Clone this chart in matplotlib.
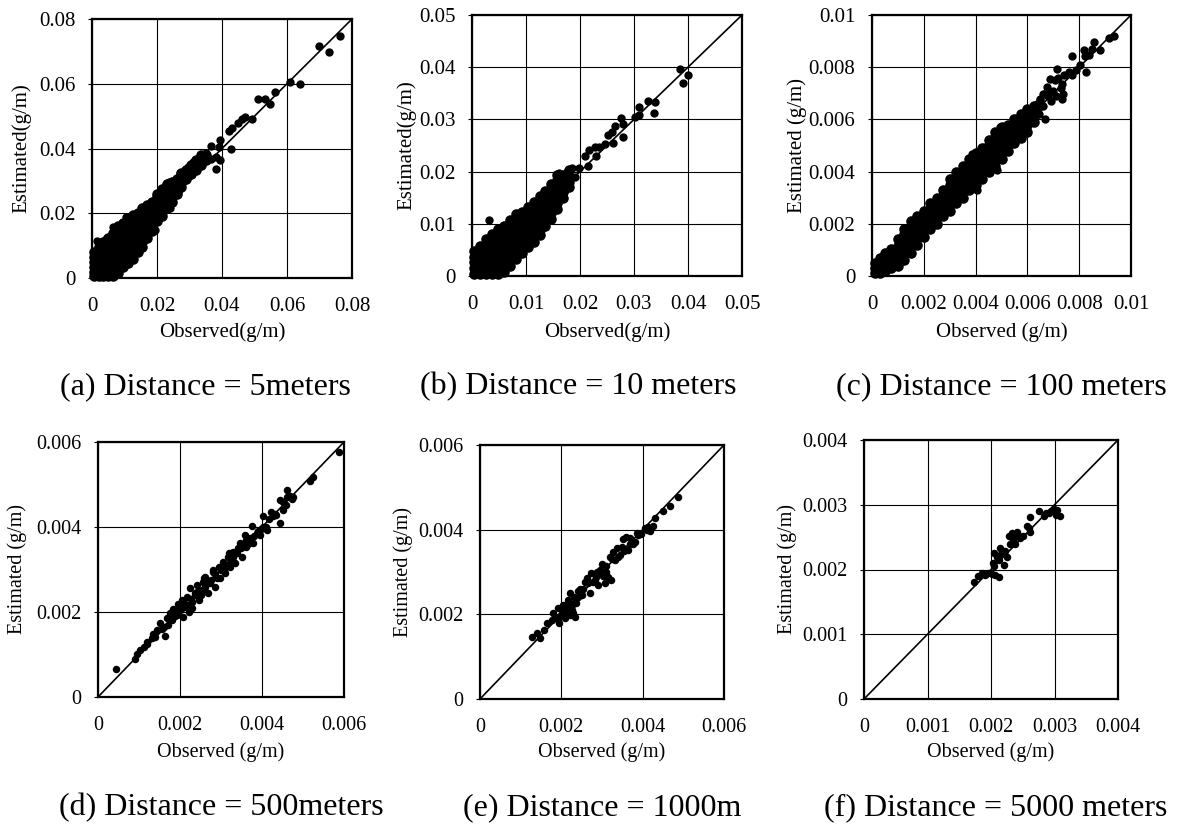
import matplotlib
matplotlib.use("Agg")
import matplotlib.pyplot as plt

plt.rcParams['font.family'] = ['Liberation Serif', 'DejaVu Serif']

# ---------------- data ----------------
# (a) 5 m : dense core as columns (observed -> list of estimated) + sparse points
a_core_x = [0.0005, 0.002, 0.0035, 0.005, 0.0065, 0.008, 0.0095, 0.011, 0.0125, 0.014,
            0.0155, 0.017, 0.0185, 0.02, 0.0215, 0.023, 0.0245, 0.026, 0.0275, 0.029,
            0.0305, 0.032, 0.0335, 0.035]
a_core_y = [
    [0.0005, 0.002, 0.0035, 0.005, 0.0065, 0.008],
    [0.0005, 0.002, 0.0035, 0.005, 0.0065, 0.008, 0.0095],
    [0.0005, 0.002, 0.0035, 0.005, 0.0065, 0.008, 0.0095, 0.011],
    [0.0005, 0.002, 0.0035, 0.005, 0.0065, 0.008, 0.0095, 0.011, 0.0125],
    [0.0005, 0.002, 0.0035, 0.005, 0.0065, 0.008, 0.0095, 0.011, 0.0125, 0.014],
    [0.0015, 0.003, 0.0045, 0.006, 0.0075, 0.009, 0.0105, 0.012, 0.0135, 0.015, 0.016],
    [0.0035, 0.005, 0.0065, 0.008, 0.0095, 0.011, 0.0125, 0.014, 0.0155, 0.017],
    [0.0045, 0.006, 0.0075, 0.009, 0.0105, 0.012, 0.0135, 0.015, 0.0165, 0.018],
    [0.006, 0.0075, 0.009, 0.0105, 0.012, 0.0135, 0.015, 0.0165, 0.018, 0.0195],
    [0.008, 0.0095, 0.011, 0.0125, 0.014, 0.0155, 0.017, 0.0185, 0.02],
    [0.0095, 0.011, 0.0125, 0.014, 0.0155, 0.017, 0.0185, 0.02, 0.0215],
    [0.0125, 0.014, 0.0155, 0.017, 0.0185, 0.02, 0.0215, 0.0225],
    [0.0145, 0.016, 0.0175, 0.019, 0.0205, 0.022, 0.0235],
    [0.0175, 0.019, 0.0205, 0.022, 0.0235, 0.025, 0.026],
    [0.019, 0.0205, 0.022, 0.0235, 0.025, 0.0265, 0.0275],
    [0.0215, 0.023, 0.0245, 0.026, 0.0275, 0.029],
    [0.0235, 0.025, 0.0265, 0.028, 0.0295],
    [0.026, 0.0275, 0.029, 0.0305],
    [0.028, 0.0295, 0.031, 0.0325],
    [0.0305, 0.032, 0.0335],
    [0.032, 0.0335, 0.035],
    [0.0335, 0.035, 0.0365],
    [0.035, 0.0365, 0.038],
    [0.0365, 0.038],
]
a_obs = [0.0762, 0.0698, 0.0728, 0.0608, 0.0639, 0.0564, 0.0549, 0.0512, 0.0532, 0.0493,
         0.0471, 0.0462, 0.0450, 0.0431, 0.0421, 0.0428, 0.0395, 0.0391, 0.0393, 0.0380,
         0.0383, 0.0366, 0.0367, 0.0352, 0.0336, 0.0324, 0.0311, 0.0295, 0.0283, 0.0270,
         0.0265, 0.0239, 0.0236, 0.0213, 0.0196, 0.0195, 0.0172, 0.0106, 0.0065, 0.0042,
         0.0016]
a_est = [0.0748, 0.0718, 0.0698, 0.0605, 0.0600, 0.0576, 0.0538, 0.0554, 0.0554, 0.0491,
         0.0496, 0.0492, 0.0478, 0.0463, 0.0454, 0.0400, 0.0426, 0.0406, 0.0364, 0.0338,
         0.0375, 0.0408, 0.0369, 0.0385, 0.0380, 0.0349, 0.0359, 0.0344, 0.0323, 0.0323,
         0.0266, 0.0215, 0.0297, 0.0204, 0.0179, 0.0148, 0.0158, 0.0189, 0.0156, 0.0119,
         0.0115]

# (b) 10 m
b_core_x = [0.0004, 0.0015, 0.0026, 0.0037, 0.0048, 0.0059, 0.0070, 0.0081, 0.0092,
            0.0103, 0.0114, 0.0125, 0.0136, 0.0147, 0.0158, 0.0169, 0.018]
b_core_y = [
    [0.0004, 0.0015, 0.0026, 0.0037, 0.0048],
    [0.0004, 0.0015, 0.0026, 0.0037, 0.0048, 0.0058],
    [0.0004, 0.0015, 0.0026, 0.0037, 0.0048, 0.0059, 0.0070],
    [0.0004, 0.0015, 0.0026, 0.0037, 0.0048, 0.0059, 0.0070, 0.0080],
    [0.0004, 0.0015, 0.0026, 0.0037, 0.0048, 0.0059, 0.0070, 0.0081, 0.0090],
    [0.0008, 0.0019, 0.0030, 0.0041, 0.0052, 0.0063, 0.0074, 0.0085, 0.0096],
    [0.0020, 0.0031, 0.0042, 0.0053, 0.0064, 0.0075, 0.0086, 0.0097, 0.0107],
    [0.0033, 0.0044, 0.0055, 0.0066, 0.0077, 0.0088, 0.0099, 0.0110, 0.0118],
    [0.0045, 0.0056, 0.0067, 0.0078, 0.0089, 0.0100, 0.0111, 0.0122],
    [0.0055, 0.0066, 0.0077, 0.0088, 0.0099, 0.0110, 0.0121, 0.0132],
    [0.0066, 0.0077, 0.0088, 0.0099, 0.0110, 0.0121, 0.0132, 0.0142],
    [0.0078, 0.0089, 0.0100, 0.0111, 0.0122, 0.0133, 0.0144, 0.0153],
    [0.0095, 0.0106, 0.0117, 0.0128, 0.0139, 0.0150, 0.0163],
    [0.0110, 0.0121, 0.0132, 0.0143, 0.0154, 0.0165, 0.0176],
    [0.0128, 0.0139, 0.0150, 0.0161, 0.0172, 0.0183, 0.0193],
    [0.0150, 0.0161, 0.0172, 0.0183, 0.0194],
    [0.0170, 0.0181, 0.0192, 0.0203],
]
b_obs = [0.0386, 0.0391, 0.0400, 0.0338, 0.0337, 0.0326, 0.0310, 0.0309, 0.0301, 0.0280,
         0.0280, 0.0275, 0.0264, 0.0260, 0.0261, 0.0252, 0.0246, 0.0236, 0.0230, 0.0227,
         0.0216, 0.0215, 0.0209, 0.0199, 0.0191, 0.0186, 0.0175, 0.0172, 0.0162, 0.0150,
         0.0136, 0.0116, 0.0031]
b_est = [0.0397, 0.0369, 0.0385, 0.0334, 0.0313, 0.0336, 0.0324, 0.0308, 0.0305, 0.0267,
         0.0291, 0.0302, 0.0287, 0.0275, 0.0254, 0.0270, 0.0253, 0.0248, 0.0230, 0.0248,
         0.0241, 0.0211, 0.0229, 0.0206, 0.0189, 0.0206, 0.0199, 0.0165, 0.0197, 0.0146,
         0.0118, 0.0074, 0.0107]

# (c) 100 m
c_core_x = [0.0001, 0.0003, 0.0005, 0.00075, 0.001, 0.00125, 0.0015, 0.00175, 0.002,
            0.00225, 0.0025, 0.00275, 0.003, 0.00325, 0.0035, 0.00375, 0.004, 0.00425,
            0.0045, 0.00475, 0.005, 0.00525, 0.0055, 0.00575, 0.006, 0.00625]
c_core_y = [
    [0.0001, 0.0003, 0.0005],
    [0.0001, 0.0003, 0.0005, 0.0007],
    [0.0002, 0.00045, 0.0007, 0.0009],
    [0.0003, 0.00055, 0.0008, 0.00105],
    [0.0004, 0.00065, 0.0009, 0.00115, 0.0014],
    [0.0006, 0.00085, 0.0011, 0.00135, 0.0016, 0.0018],
    [0.0009, 0.00115, 0.0014, 0.00165, 0.0019, 0.0021],
    [0.0012, 0.00145, 0.0017, 0.00195, 0.0022, 0.0023],
    [0.0015, 0.00175, 0.002, 0.00225, 0.0025],
    [0.0018, 0.00205, 0.0023, 0.00255, 0.0028],
    [0.002, 0.00225, 0.0025, 0.00275, 0.003],
    [0.0023, 0.00255, 0.0028, 0.00305, 0.0033],
    [0.0025, 0.00275, 0.003, 0.00325, 0.0035, 0.0037],
    [0.0028, 0.00305, 0.0033, 0.00355, 0.0038, 0.0040],
    [0.003, 0.00325, 0.0035, 0.00375, 0.004, 0.0042],
    [0.0033, 0.00355, 0.0038, 0.00405, 0.0043, 0.0045],
    [0.0035, 0.00375, 0.004, 0.00425, 0.0045, 0.0047],
    [0.0037, 0.00395, 0.0042, 0.00445, 0.0047, 0.0049],
    [0.004, 0.00425, 0.0045, 0.00475, 0.005, 0.0052],
    [0.0042, 0.00445, 0.0047, 0.00495, 0.0052, 0.0055],
    [0.0045, 0.00475, 0.005, 0.00525, 0.0055, 0.0057],
    [0.0048, 0.00505, 0.0053, 0.00555, 0.0058],
    [0.0051, 0.00535, 0.0056, 0.00585, 0.006],
    [0.0053, 0.00555, 0.0058, 0.00605, 0.0062],
    [0.0055, 0.0058, 0.0061, 0.0064],
    [0.0059, 0.0062, 0.0065],
]
c_obs = [0.00935, 0.00914, 0.00881, 0.00858, 0.00849, 0.00836, 0.00823, 0.00817, 0.00827,
         0.00804, 0.00788, 0.00772, 0.00772, 0.00759, 0.00742, 0.00733, 0.00714, 0.00733,
         0.00739, 0.00707, 0.00688, 0.00675, 0.00662, 0.00649, 0.00636, 0.00668, 0.00643,
         0.00623, 0.00610, 0.00585, 0.00572, 0.00539, 0.00526, 0.00494, 0.00468, 0.00481,
         0.00436, 0.00388, 0.00404, 0.0064, 0.0066, 0.0068, 0.0070, 0.0069, 0.0071, 0.0073,
         0.0067, 0.0065, 0.0063, 0.0072]
c_est = [0.0092, 0.00913, 0.00865, 0.00897, 0.00871, 0.00846, 0.00842, 0.00865, 0.00782,
         0.00809, 0.0079, 0.00842, 0.00769, 0.00782, 0.00769, 0.00737, 0.00795, 0.0068,
         0.00699, 0.0075, 0.00756, 0.00724, 0.00699, 0.00673, 0.0066, 0.00603, 0.00622,
         0.00642, 0.00616, 0.00597, 0.00552, 0.00565, 0.00495, 0.00571, 0.00527, 0.00406,
         0.00495, 0.00467, 0.00329, 0.0064, 0.0065, 0.0069, 0.0071, 0.0067, 0.0069, 0.0072,
         0.0070, 0.0068, 0.0061, 0.0076]

# (d) 500 m
d_obs = [0.00045, 0.00091, 0.00095, 0.00103, 0.00111, 0.00119, 0.00131, 0.00135, 0.00144,
         0.0015, 0.0016, 0.00164, 0.00168, 0.00176, 0.0018, 0.00184, 0.00192, 0.00196,
         0.002, 0.00204, 0.00207, 0.00212, 0.00216, 0.00221, 0.00225, 0.00229, 0.00237,
         0.00241, 0.00247, 0.00253, 0.00259, 0.00261, 0.00269, 0.00273, 0.00281, 0.00285,
         0.00294, 0.00298, 0.00306, 0.0031, 0.00318, 0.00322, 0.0033, 0.00334, 0.00342,
         0.00346, 0.0035, 0.00358, 0.00362, 0.00371, 0.00375, 0.00379, 0.00387, 0.00395,
         0.00403, 0.00403, 0.00411, 0.00421, 0.00427, 0.00435, 0.00444, 0.00452, 0.00444,
         0.00458, 0.00461, 0.00468, 0.00472, 0.00516, 0.00525, 0.00589,
         0.00188, 0.00196, 0.00205, 0.00213, 0.0022, 0.00228, 0.00236, 0.00245, 0.0025,
         0.0026, 0.00268, 0.00276, 0.00285, 0.0029, 0.003, 0.00308, 0.00315, 0.00325,
         0.0033, 0.0034, 0.00348, 0.00355, 0.00365, 0.0037, 0.0038, 0.0039, 0.00398,
         0.0041, 0.00418, 0.00432, 0.0045, 0.0046, 0.00475, 0.0012, 0.0014, 0.00155,
         0.0017, 0.0019, 0.0021, 0.0023, 0.00255, 0.0028, 0.0032, 0.0036]
d_est = [0.00067, 0.0009, 0.00102, 0.0011, 0.00118, 0.0013, 0.00138, 0.00149, 0.00157,
         0.00175, 0.00165, 0.00143, 0.00185, 0.00197, 0.00181, 0.00208, 0.00193, 0.0022,
         0.00204, 0.00228, 0.00189, 0.00212, 0.00236, 0.002, 0.00256, 0.00224, 0.00244,
         0.00263, 0.00228, 0.00252, 0.00279, 0.00283, 0.00244, 0.00269, 0.00295, 0.0026,
         0.00307, 0.00279, 0.00318, 0.00291, 0.0033, 0.00307, 0.00342, 0.00315, 0.0035,
         0.00362, 0.0033, 0.00381, 0.00354, 0.00374, 0.00403, 0.00362, 0.00385, 0.00381,
         0.00401, 0.00427, 0.00393, 0.00436, 0.00425, 0.00429, 0.00409, 0.0044, 0.00464,
         0.00452, 0.00486, 0.00472, 0.00467, 0.00509, 0.00517, 0.00576,
         0.0019, 0.0020, 0.0021, 0.0022, 0.00215, 0.0023, 0.0024, 0.0025, 0.0024,
         0.0026, 0.0027, 0.00275, 0.0029, 0.0028, 0.0030, 0.0030, 0.0031, 0.0032,
         0.0033, 0.0034, 0.0035, 0.0036, 0.0036, 0.0037, 0.0038, 0.0039, 0.00395,
         0.0040, 0.0042, 0.0043, 0.0046, 0.0047, 0.0047, 0.00125, 0.00142, 0.0016,
         0.0017, 0.00205, 0.0022, 0.0021, 0.0027, 0.0030, 0.0034, 0.0037]

# (e) 1000 m
e_obs = [0.00127, 0.00139, 0.00147, 0.00157, 0.00164, 0.00176, 0.0018, 0.00187, 0.00192,
         0.00195, 0.00201, 0.00205, 0.00209, 0.00213, 0.00217, 0.00221, 0.00225, 0.00229,
         0.00233, 0.00221, 0.00237, 0.00241, 0.00246, 0.0025, 0.00258, 0.00262, 0.0027,
         0.00274, 0.00278, 0.00286, 0.00291, 0.00295, 0.00299, 0.00303, 0.00307, 0.00311,
         0.00315, 0.00319, 0.00321, 0.00327, 0.00332, 0.00336, 0.0034, 0.00348, 0.00352,
         0.0036, 0.00364, 0.00368, 0.00377, 0.00385, 0.00389, 0.00405, 0.00413, 0.00419,
         0.00426, 0.0043, 0.00449, 0.00468, 0.00487,
         0.00196, 0.00204, 0.00212, 0.00218, 0.00226, 0.00232, 0.00242, 0.00254, 0.00266,
         0.00282, 0.00288, 0.00302, 0.0031, 0.00325, 0.00345, 0.00355, 0.0037, 0.0038,
         0.00395, 0.0041]
e_est = [0.00146, 0.00157, 0.00143, 0.00163, 0.00179, 0.00187, 0.00202, 0.00191, 0.00214,
         0.00179, 0.00202, 0.00222, 0.00191, 0.0021, 0.00234, 0.00198, 0.00222, 0.00202,
         0.00194, 0.0025, 0.00226, 0.00242, 0.00261, 0.00246, 0.00277, 0.00285, 0.0025,
         0.00297, 0.00277, 0.00289, 0.00269, 0.00305, 0.0032, 0.00297, 0.00273, 0.00313,
         0.00289, 0.00336, 0.00281, 0.00348, 0.00328, 0.00356, 0.00336, 0.0036, 0.00377,
         0.00383, 0.00352, 0.00367, 0.00367, 0.00391, 0.00387, 0.00403, 0.00407, 0.00397,
         0.00409, 0.00427, 0.00443, 0.00456, 0.00476,
         0.00195, 0.00208, 0.00215, 0.0023, 0.0021, 0.0024, 0.00255, 0.0026, 0.00275,
         0.0028, 0.003, 0.0029, 0.0030, 0.0033, 0.0034, 0.0035, 0.0038, 0.0037,
         0.0039, 0.0040]

# (f) 5000 m
f_obs = [0.00174, 0.00179, 0.00186, 0.00191, 0.00196, 0.00201, 0.00207, 0.00212, 0.00204,
         0.00203, 0.00209, 0.00214, 0.00212, 0.0022, 0.00222, 0.00225, 0.00228, 0.0023,
         0.00233, 0.00235, 0.00241, 0.00238, 0.00246, 0.00251, 0.00256, 0.00261, 0.00262,
         0.00275, 0.00283, 0.00291, 0.00299, 0.00304, 0.00308, 0.00303,
         0.00244, 0.00236, 0.00287, 0.00295, 0.0026, 0.00205, 0.00216]
f_est = [0.0018, 0.0019, 0.00194, 0.00192, 0.00194, 0.00193, 0.00192, 0.00188, 0.00225,
         0.0021, 0.0022, 0.00233, 0.00215, 0.00207, 0.00228, 0.0022, 0.00251, 0.0024,
         0.00256, 0.00246, 0.00258, 0.0024, 0.00248, 0.00251, 0.00267, 0.00281, 0.00258,
         0.00291, 0.00283, 0.00288, 0.00294, 0.00292, 0.00282, 0.00284,
         0.00252, 0.00252, 0.00287, 0.0029, 0.00264, 0.00205, 0.00224]

# tick values / labels
a_ticks = [0, 0.02, 0.04, 0.06, 0.08]
a_tick_labels = ['0', '0.02', '0.04', '0.06', '0.08']
b_ticks = [0, 0.01, 0.02, 0.03, 0.04, 0.05]
b_tick_labels = ['0', '0.01', '0.02', '0.03', '0.04', '0.05']
c_ticks = [0, 0.002, 0.004, 0.006, 0.008, 0.01]
c_tick_labels = ['0', '0.002', '0.004', '0.006', '0.008', '0.01']
de_ticks = [0, 0.002, 0.004, 0.006]
de_tick_labels = ['0', '0.002', '0.004', '0.006']
f_ticks = [0, 0.001, 0.002, 0.003, 0.004]
f_tick_labels = ['0', '0.001', '0.002', '0.003', '0.004']

captions = ['(a) Distance = 5meters', '(b) Distance = 10 meters', '(c) Distance = 100 meters',
            '(d) Distance = 500meters', '(e) Distance = 1000m', '(f) Distance = 5000 meters']
xlabels = ['Observed(g/m)', 'Observed(g/m)', 'Observed (g/m)',
           'Observed (g/m)', 'Observed (g/m)', 'Observed (g/m)']
ylabels = ['Estimated(g/m)', 'Estimated(g/m)', 'Estimated (g/m)',
           'Estimated (g/m)', 'Estimated (g/m)', 'Estimated (g/m)']


def expand(xs, ycols):
    ox = [x for x, ys in zip(xs, ycols) for _ in ys]
    oy = [y for ys in ycols for y in ys]
    return ox, oy


a_cx, a_cy = expand(a_core_x, a_core_y)
b_cx, b_cy = expand(b_core_x, b_core_y)
c_cx, c_cy = expand(c_core_x, c_core_y)

# (core points, sparse points) per panel
series = [
    ((a_cx, a_cy), (a_obs, a_est)),
    ((b_cx, b_cy), (b_obs, b_est)),
    ((c_cx, c_cy), (c_obs, c_est)),
    (([], []), (d_obs, d_est)),
    (([], []), (e_obs, e_est)),
    (([], []), (f_obs, f_est)),
]
ticks = [(a_ticks, a_tick_labels), (b_ticks, b_tick_labels), (c_ticks, c_tick_labels),
         (de_ticks, de_tick_labels), (de_ticks, de_tick_labels), (f_ticks, f_tick_labels)]

# ---------------- layout (pixels) ----------------
W, H = 1178, 827
rects = [(92, 19, 352, 278), (472, 15, 742, 276), (872, 15, 1131, 276),
         (98, 442, 344, 697), (480, 445, 724, 699), (864, 440, 1118, 699)]
ylab_px = [22, 407, 797, 17, 403, 787]
xlab_py = [332, 332, 332, 752, 752, 752]
cap_pos = [(205, 387), (578, 387), (1001, 387), (221, 808), (602, 808), (996, 808)]
tick_fs = [15, 15, 15, 14.5, 14.5, 14.5]
label_fs = [15, 15, 15, 14.5, 14.5, 14.5]
msize = [6.0, 6.0, 6.0, 5.4, 5.4, 5.4]
core_msize = 7.6

fig = plt.figure(figsize=(W / 100, H / 100), dpi=100)

for i in range(6):
    x0, y0, x1, y1 = rects[i]
    ax = fig.add_axes([x0 / W, 1 - y1 / H, (x1 - x0) / W, (y1 - y0) / H])
    tv, tl = ticks[i]
    lim = tv[-1]
    (cx_, cy_), (obs, est) = series[i]
    ax.plot([0, lim], [0, lim], color='black', lw=1.2, zorder=2)
    if cx_:
        ax.plot(cx_, cy_, 'o', color='black', ms=core_msize, mew=0, clip_on=False, zorder=3)
    ax.plot(obs, est, 'o', color='black', ms=msize[i], mew=0, clip_on=False, zorder=3)
    ax.set_xlim(0, lim)
    ax.set_ylim(0, lim)
    ax.set_xticks(tv)
    ax.set_xticklabels(tl)
    ax.set_yticks(tv)
    ax.set_yticklabels(tl)
    ax.grid(True, color='black', lw=0.8)
    ax.set_axisbelow(True)
    for s in ax.spines.values():
        s.set_linewidth(1.6)
    ax.tick_params(axis='y', direction='out', length=3, width=0.8, pad=9,
                   labelsize=tick_fs[i])
    ax.tick_params(axis='x', length=0, pad=14, labelsize=tick_fs[i])
    ax.set_xlabel(xlabels[i], fontsize=label_fs[i], va='center')
    ax.xaxis.set_label_coords(0.5, (y1 - xlab_py[i]) / (y1 - y0))
    ax.set_ylabel(ylabels[i], fontsize=label_fs[i], va='center')
    ax.yaxis.set_label_coords((ylab_px[i] - x0) / (x1 - x0), 0.5)
    px, py = cap_pos[i]
    fig.text(px / W, 1 - py / H, captions[i], fontsize=23, ha='center', va='center')

fig.savefig('out.png', dpi=100)
